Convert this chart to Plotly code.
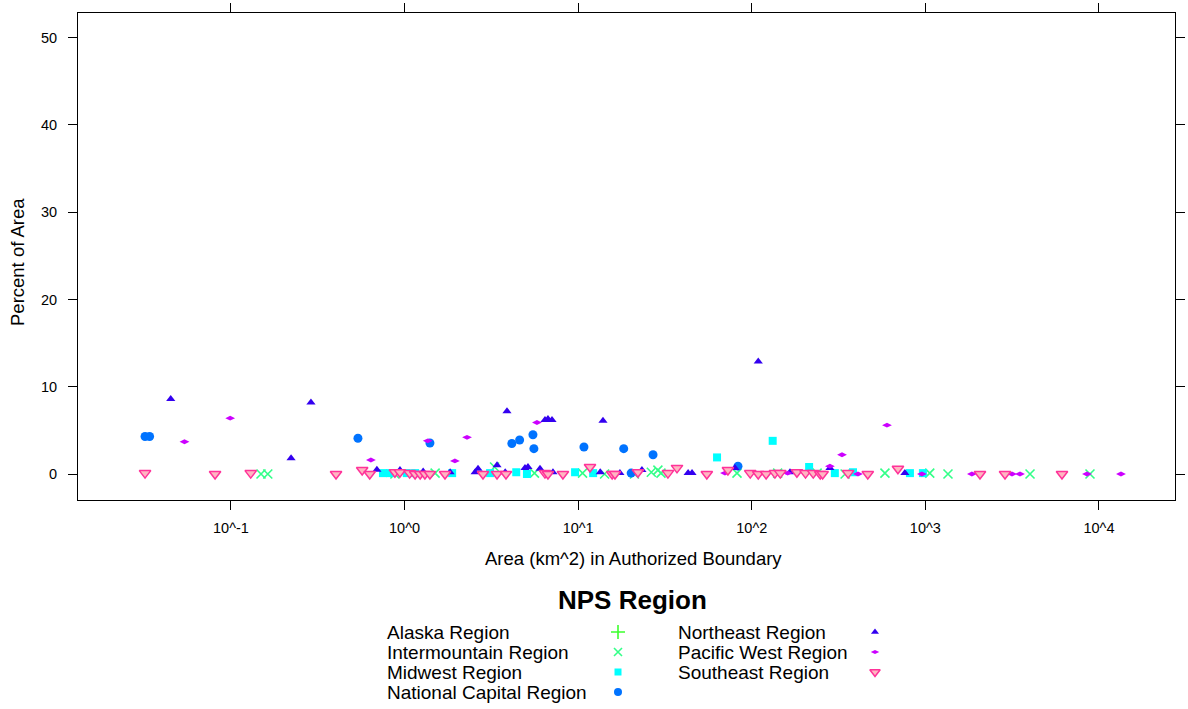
import plotly.graph_objects as go

# ---- data: park area (km^2) and percent of area, by NPS region ----
alaska_area = []
alaska_pct = []

intermountain_area = [0.149, 0.163, 0.88, 1.50, 3.3, 5.6, 10.6, 14.2, 21.1, 26.4, 28.8, 30.0,
                      82.2, 141, 238, 345, 585, 1060, 1350, 4008, 8877]
intermountain_pct = [0, 0, 0, 0.1, 0.8, 0.1, 0.1, 0, 0, 0.2, 0.45, 0.1,
                     0.1, 0.1, 0.1, 0, 0.1, 0.1, 0, 0, 0]

midwest_area = [0.751, 0.824, 1.03, 1.15, 1.88, 3.11, 4.4, 5.07, 9.6, 12.2, 63.1, 132,
                214, 301, 383, 815, 968]
midwest_pct = [0.1, 0.1, 0.1, 0.1, 0.1, 0.1, 0.2, 0, 0.2, 0.1, 1.9, 3.8,
               0.8, 0.1, 0.2, 0.1, 0.1]

natcap_area = [0.032, 0.034, 0.539, 1.40, 4.15, 4.6, 5.49, 5.56, 10.8, 18.3, 20.2, 27.0, 83.3]
natcap_pct = [4.3, 4.3, 4.1, 3.55, 3.5, 3.9, 4.5, 2.9, 3.1, 2.9, 0.1, 2.2, 0.9]

northeast_area = [0.045, 0.222, 0.289, 0.693, 0.941, 1.28, 1.83, 2.55, 2.65, 3.41, 3.8, 3.89,
                  4.94, 5.14, 6.03, 6.44, 6.70, 7.07, 7.16, 13.4, 13.9, 17.4, 23.3, 43.0,
                  45.3, 80.0, 109, 166, 282, 762]
northeast_pct = [8.6, 1.8, 8.2, 0.5, 0.45, 0.3, 0.2, 0.2, 0.6, 1.0, 0.2, 7.2,
                 0.7, 0.8, 0.6, 6.2, 6.3, 6.2, 0.2, 0.2, 6.1, 0.1, 0.45, 0.1,
                 0.1, 0.7, 12.9, 0.2, 0.7, 0.1]

pacific_area = [0.054, 0.099, 0.640, 1.36, 1.95, 2.29, 5.79, 70.1, 161, 282, 331, 409,
                601, 955, 1854, 3157, 3508, 8531, 13390]
pacific_pct = [3.7, 6.4, 1.6, 3.8, 1.5, 4.2, 5.9, 0.1, 0.1, 0.9, 2.2, 0,
               5.6, 0, 0, 0, 0, 0, 0]

southeast_area = [0.032, 0.081, 0.130, 0.403, 0.57, 0.63, 0.88, 0.94, 1.07, 1.15, 1.23, 1.31,
                  1.40, 1.71, 2.83, 3.41, 3.84, 6.44, 6.70, 8.17, 11.7, 15.7, 16.3, 22.1,
                  32.9, 37.1, 55.1, 72.9, 98, 109, 121, 136, 146, 182, 204, 226,
                  248, 256, 359, 466, 695, 2064, 2876, 6124]
southeast_pct = [0.1, 0, 0.1, 0, 0.45, 0, 0.2, 0.2, 0.1, 0, 0, 0,
                 0, 0, 0, 0, 0, 0.1, 0, 0, 0.8, 0, 0, 0.2,
                 0.1, 0.7, 0, 0.45, 0.1, 0, 0, 0.1, 0.1, 0.2, 0.1, 0.1,
                 0, 0, 0.1, 0, 0.6, 0, 0, 0]

region_names = ["Alaska Region", "Intermountain Region", "Midwest Region",
                "National Capital Region", "Northeast Region", "Pacific West Region",
                "Southeast Region"]

x_tick_vals = [0.1, 1, 10, 100, 1000, 10000]
x_tick_text = ["10^-1", "10^0", "10^1", "10^2", "10^3", "10^4"]
y_tick_vals = [0, 10, 20, 30, 40, 50]

# ---- styling per region ----
styles = {
    "Alaska Region": dict(symbol="cross-thin-open", size=11, color="#3dff2e",
                          line=dict(color="#3dff2e", width=1.6)),
    "Intermountain Region": dict(symbol="x-thin-open", size=9, color="#33ff88",
                                 line=dict(color="#33ff88", width=1.6)),
    "Midwest Region": dict(symbol="square", size=8, color="#00ffff",
                           line=dict(width=0)),
    "National Capital Region": dict(symbol="circle", size=9, color="#0073ff",
                                    line=dict(width=0)),
    "Northeast Region": dict(symbol="triangle-up", size=8, color="#3300f0",
                             line=dict(width=0)),
    "Pacific West Region": dict(symbol="diamond-wide", size=7, color="#cc00ff",
                                line=dict(width=0)),
    "Southeast Region": dict(symbol="triangle-down", size=10, color="#ffb6c1",
                             line=dict(color="#ff3399", width=1.5)),
}

series = [
    (alaska_area, alaska_pct),
    (intermountain_area, intermountain_pct),
    (midwest_area, midwest_pct),
    (natcap_area, natcap_pct),
    (northeast_area, northeast_pct),
    (pacific_area, pacific_pct),
    (southeast_area, southeast_pct),
]

fig = go.Figure()
for name, (xs, ys) in zip(region_names, series):
    fig.add_trace(go.Scatter(x=xs, y=ys, mode="markers", name=name,
                             marker=styles[name], showlegend=False))

# ---- page geometry (pixels) ----
W, H = 1188, 709
PANEL_L, PANEL_R, PANEL_T, PANEL_B = 78, 1175, 13, 500


def fx(x):
    return x / W


def fy(y):
    return 1 - y / H


font = "Liberation Sans, Arial, sans-serif"

# ---- key below the panel: label text followed by its symbol ----
key_cols = [(385, 618), (676, 875)]
key_rows = [632, 652, 672, 692]
key_layout = [(0, 0), (0, 1), (0, 2), (0, 3), (1, 0), (1, 1), (1, 2)]

annotations = [
    dict(text="<b>NPS Region</b>", x=fx(632), y=fy(600), xref="paper", yref="paper",
         showarrow=False, xanchor="center", yanchor="middle",
         font=dict(family=font, size=26, color="black")),
    dict(text="Area (km^2) in Authorized Boundary", x=fx(633), y=fy(558),
         xref="paper", yref="paper", showarrow=False, xanchor="center",
         yanchor="middle", font=dict(family=font, size=18.5, color="black")),
    dict(text="Percent of Area", x=fx(17), y=fy(262), xref="paper", yref="paper",
         showarrow=False, xanchor="center", yanchor="middle", textangle=-90,
         font=dict(family=font, size=18.5, color="black")),
]

for name, (c, r) in zip(region_names, key_layout):
    tx, sx = key_cols[c]
    yy = key_rows[r]
    annotations.append(dict(text=name, x=fx(tx), y=fy(yy), xref="paper", yref="paper",
                            showarrow=False, xanchor="left", yanchor="middle",
                            font=dict(family=font, size=19, color="black")))
    st = styles[name]
    fig.add_trace(go.Scatter(x=[sx], y=[yy], mode="markers", xaxis="x3", yaxis="y3",
                             marker=dict(symbol=st["symbol"], size=st["size"] - 1,
                                         color=st["color"], line=st["line"]),
                             cliponaxis=False, showlegend=False, hoverinfo="skip"))

fig.update_layout(
    width=W, height=H,
    margin=dict(l=0, r=0, t=0, b=0, pad=0),
    paper_bgcolor="white", plot_bgcolor="white",
    showlegend=False,
    annotations=annotations,
    xaxis=dict(type="log", range=[-1.881, 4.438], domain=[fx(PANEL_L), fx(PANEL_R)],
               anchor="y", tickvals=x_tick_vals, ticktext=x_tick_text,
               ticks="outside", ticklen=9, tickwidth=1, tickcolor="black",
               showline=True, linecolor="black", linewidth=1, mirror="ticks",
               showgrid=False, zeroline=False, automargin=False,
               ticklabelstandoff=6,
               tickfont=dict(family=font, size=14.5, color="black")),
    yaxis=dict(range=[-2.98, 52.83], domain=[fy(PANEL_B), fy(PANEL_T)], anchor="x",
               tickvals=y_tick_vals, ticks="outside", ticklen=9, tickwidth=1,
               tickcolor="black", showline=True, linecolor="black", linewidth=1,
               mirror="ticks", showgrid=False, zeroline=False, automargin=False,
               ticklabelstandoff=8,
               tickfont=dict(family=font, size=14.5, color="black")),
    xaxis3=dict(domain=[0, 1], range=[0, W], anchor="y3", visible=False,
                fixedrange=True),
    yaxis3=dict(domain=[0, fy(PANEL_B)], range=[H, PANEL_B], anchor="x3",
                visible=False, fixedrange=True),
)

fig.write_html("out.html")
